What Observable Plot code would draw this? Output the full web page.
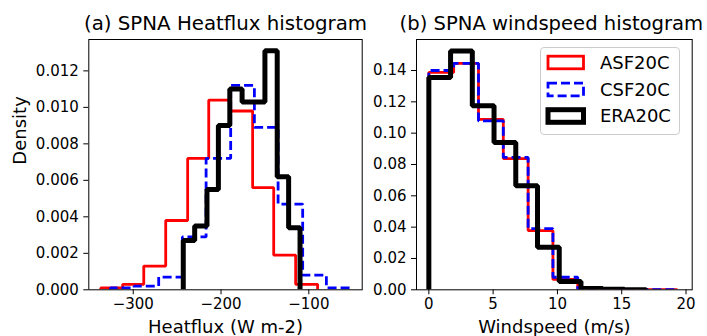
<!DOCTYPE html>
<html><head><meta charset="utf-8">
<script src="https://cdn.jsdelivr.net/npm/d3@7"></script>
<script src="https://cdn.jsdelivr.net/npm/@observablehq/plot@0.6"></script>
<style>
body{margin:0;background:#fff;}
#wrap{position:relative;width:707px;height:336px;overflow:hidden;font-family:"DejaVu Sans",sans-serif;background:#fff;}
#wrap > svg, #wrap > div {position:absolute;top:0;}
</style></head><body><div id="wrap"></div>
<script>
// ---- data ----
const seriesNames = ["ASF20C", "CSF20C", "ERA20C"];

// (a) Heatflux histogram: bin edges and densities
const heatRedEdges   = [-337, -312, -288, -263, -238, -214, -189, -164, -140, -115, -90];
const heatRedDens    = [0.0001, 0.0003, 0.0013, 0.0038, 0.0072, 0.0104, 0.0098, 0.0056, 0.0019, 0.0003];
const heatBlueEdges  = [-326, -299, -271, -244, -217, -189, -162, -135, -107, -80, -53];
const heatBlueDens   = [0.0001, 0.0002, 0.0007, 0.0029, 0.0072, 0.0112, 0.0089, 0.0047, 0.0008, 0.0001];
const heatBlackEdges = [-243, -230, -216, -203, -190, -176, -163, -150, -136, -123, -110];
const heatBlackDens  = [0.0027, 0.0035, 0.0055, 0.0090, 0.0110, 0.0103, 0.0103, 0.0131, 0.0062, 0.0034];

// (b) Windspeed histogram
const windRedEdges   = [0, 1.93, 3.86, 5.79, 7.72, 9.65, 11.58, 13.51, 15.44, 17.37, 19.3];
const windRedDens    = [0.1388, 0.1445, 0.1088, 0.0838, 0.0378, 0.0066, 0.0005, 0.0002, 0.0001, 0.0001];
const windBlueEdges  = [0, 1.93, 3.86, 5.79, 7.72, 9.65, 11.58, 13.51, 15.44, 17.37, 19.3];
const windBlueDens   = [0.1400, 0.1445, 0.1078, 0.0845, 0.0390, 0.0080, 0.0005, 0.0002, 0.0001, 0.0001];
const windBlackEdges = [0, 1.69, 3.38, 5.07, 6.76, 8.45, 10.14, 11.83, 13.52, 15.21, 16.9];
const windBlackDens  = [0.1355, 0.1525, 0.1175, 0.0940, 0.0665, 0.0272, 0.0053, 0.0008, 0.0003, 0.0001];

// ticks & labels
const heatXTicks = [-300, -200, -100];
const heatYTicks = [0, 0.002, 0.004, 0.006, 0.008, 0.010, 0.012];
const windXTicks = [0, 5, 10, 15, 20];
const windYTicks = [0, 0.02, 0.04, 0.06, 0.08, 0.10, 0.12, 0.14];
const heatTitle = "(a) SPNA Heatflux histogram";
const windTitle = "(b) SPNA windspeed histogram";
const heatXLabel = "Heatflux (W m-2)";
const windXLabel = "Windspeed (m/s)";
const yLabel = "Density";

// ---- helpers ----
function stepOutline(edges, dens) {
  const pts = [{x: edges[0], y: 0}];
  dens.forEach((d, i) => { pts.push({x: edges[i], y: d}); pts.push({x: edges[i + 1], y: d}); });
  pts.push({x: edges[edges.length - 1], y: 0});
  return pts;
}
const styles = [
  {stroke: "#ff0000", strokeWidth: 2.8},
  {stroke: "#0000ff", strokeWidth: 2.8, strokeDasharray: "9,4"},
  {stroke: "#000000", strokeWidth: 5}
];
function histLines(series) {
  return series.map(([e, d], i) => Plot.line(stepOutline(e, d), {
    x: "x", y: "y", clip: true, strokeLinejoin: "miter", strokeLinecap: "butt", ...styles[i]
  }));
}
const baseStyle = {fontFamily: "DejaVu Sans", fontSize: "15px", color: "black", background: "transparent", overflow: "visible"};

const wrap = document.getElementById("wrap");

const p1 = Plot.plot({
  width: 370, height: 336,
  marginLeft: 88.3, marginRight: 8.3, marginTop: 39, marginBottom: 46.7,
  style: baseStyle,
  x: {domain: [-350.6, -39.2], ticks: heatXTicks, tickFormat: d3.format("d"), tickSize: 5, tickPadding: 4, label: null},
  y: {domain: [0, 0.01372], ticks: heatYTicks, tickFormat: d3.format(".3f"), tickSize: 5, tickPadding: 5, label: null},
  marks: [
    ...histLines([[heatRedEdges, heatRedDens], [heatBlueEdges, heatBlueDens], [heatBlackEdges, heatBlackDens]]),
    Plot.frame({stroke: "black", strokeWidth: 1}),
    Plot.text([heatTitle], {frameAnchor: "top", dy: -15.4, fontSize: 19.8, lineAnchor: "middle", text: d => d}),
    Plot.text([heatXLabel], {frameAnchor: "bottom", dy: 37, fontSize: 18, lineAnchor: "middle", text: d => d}),
    Plot.text([yLabel], {frameAnchor: "left", dx: -68.6, rotate: -90, fontSize: 18, lineAnchor: "middle", text: d => d})
  ]
});
p1.style.left = "0px";
wrap.appendChild(p1);

const p2 = Plot.plot({
  width: 347, height: 336,
  marginLeft: 56, marginRight: 15.3, marginTop: 39, marginBottom: 46.7,
  style: baseStyle,
  x: {domain: [-0.96, 20.48], ticks: windXTicks, tickFormat: d3.format("d"), tickSize: 5, tickPadding: 4, label: null},
  y: {domain: [0, 0.1598], ticks: windYTicks, tickFormat: d3.format(".2f"), tickSize: 5, tickPadding: 5, label: null},
  marks: [
    ...histLines([[windRedEdges, windRedDens], [windBlueEdges, windBlueDens], [windBlackEdges, windBlackDens]]),
    Plot.frame({stroke: "black", strokeWidth: 1}),
    Plot.text([windTitle], {frameAnchor: "top", dy: -15.4, dx: -3, fontSize: 19.6, lineAnchor: "middle", text: d => d}),
    Plot.text([windXLabel], {frameAnchor: "bottom", dy: 37, fontSize: 18, lineAnchor: "middle", text: d => d})
  ]
});
p2.style.left = "360px";
wrap.appendChild(p2);

// ---- legend ----
const lg = document.createElement("div");
lg.style.cssText = "left:540px;top:47px;width:138px;height:86px;border:1px solid #cccccc;border-radius:4px;background:rgba(255,255,255,0.8);";
wrap.appendChild(lg);
const svgL = d3.select(wrap).append("svg").attr("width", 707).attr("height", 336).style("left", "0px").style("pointer-events", "none");
const rowY = [62.5, 89.5, 116];
seriesNames.forEach((name, i) => {
  const st = styles[i];
  svgL.append("rect").attr("x", 548).attr("y", rowY[i] - 6.3).attr("width", 35.5).attr("height", 12.6)
    .attr("fill", "none").attr("stroke", st.stroke).attr("stroke-width", st.strokeWidth)
    .attr("stroke-dasharray", st.strokeDasharray || null).attr("stroke-linejoin", "miter");
  svgL.append("text").attr("x", 600).attr("y", rowY[i]).attr("dy", "0.35em")
    .attr("font-family", "DejaVu Sans").attr("font-size", 18).attr("fill", "black").text(name);
});
</script>
</body></html>
